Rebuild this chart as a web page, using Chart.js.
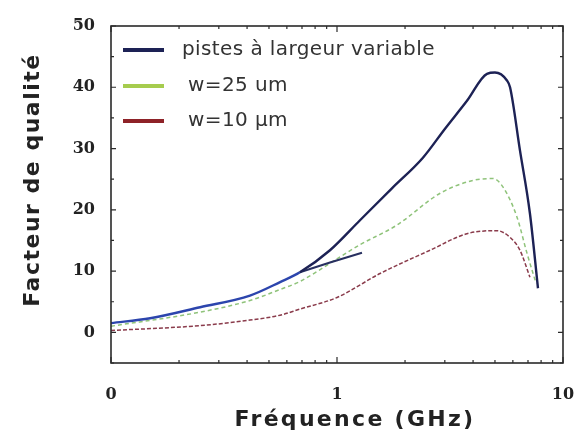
<!DOCTYPE html>
<html>
<head>
<meta charset="utf-8">
<script src="https://cdn.jsdelivr.net/npm/chart.js@4"></script>
<style>
  html, body { margin: 0; padding: 0; background: #fff; }
  #wrap { width: 581px; height: 439px; }
</style>
</head>
<body>
<div id="wrap"><canvas id="chart" width="581" height="439"></canvas></div>
<script>
// x tick labels on the log axis (the 0.1 tick is printed as "0")
const xTickValues = [0.1, 1, 10];
const xTickLabels = ['0', '1', '10'];

// pistes à largeur variable
const varFreq = [0.1, 0.149, 0.248, 0.412, 0.56, 0.685, 0.931, 1.264, 1.75, 2.40, 3.0, 3.76, 4.61, 5.0, 5.65, 5.83, 6.45, 7.14, 7.75];
const varQ    = [1.5, 2.3, 4.1, 6.0, 8.2, 9.8, 13.4, 18.3, 23.5, 28.5, 33.2, 37.8, 42.2, 42.4, 41.1, 40.0, 29.7, 19.4, 7.2];
// short second branch of the same curve
const branchFreq = [0.685, 0.931, 1.29];
const branchQ    = [9.8, 11.4, 13.0];
// w=25 um
const w25Freq = [0.1, 0.248, 0.412, 0.56, 0.685, 1.0, 1.264, 1.84, 2.86, 4.0, 4.9, 5.43, 6.26, 6.93, 7.6];
const w25Q    = [1.0, 3.3, 5.2, 7.0, 8.3, 12.0, 14.3, 17.5, 22.7, 24.8, 25.1, 23.7, 18.8, 12.9, 8.0];
// w=10 µm
const w10Freq = [0.1, 0.248, 0.412, 0.56, 0.685, 1.0, 1.55, 2.58, 3.76, 5.1, 5.83, 6.45, 7.14];
const w10Q    = [0.3, 1.1, 2.0, 2.8, 3.8, 5.7, 9.6, 13.4, 16.1, 16.6, 15.5, 13.4, 9.0];

const toPoints = (xs, ys) => xs.map((x, i) => ({ x: x, y: ys[i] }));

const navy = '#1d2255';
const frameColor = '#2a2a2a';

// frame, inward ticks, axis titles and the legend
const decorPlugin = {
  id: 'decor',
  afterDraw(chart) {
    const ctx = chart.ctx;
    const a = chart.chartArea;
    const xs = chart.scales.x, ys = chart.scales.y;
    ctx.save();
    ctx.strokeStyle = frameColor;
    ctx.lineWidth = 1.6;
    ctx.strokeRect(a.left, a.top, a.right - a.left, a.bottom - a.top);

    ctx.lineWidth = 1.2;
    ctx.beginPath();
    // y ticks every 5, longer every 10
    for (let v = -5; v <= 50; v += 5) {
      const py = ys.getPixelForValue(v);
      const len = v % 10 === 0 ? 5 : 3;
      ctx.moveTo(a.left, py); ctx.lineTo(a.left + len, py);
      ctx.moveTo(a.right, py); ctx.lineTo(a.right - len, py);
    }
    // log x ticks
    for (let d = 0.1; d < 10; d *= 10) {
      for (let k = 1; k <= 10; k++) {
        const px = xs.getPixelForValue(d * k);
        const len = k === 1 || k === 10 ? 6 : 3;
        ctx.moveTo(px, a.bottom); ctx.lineTo(px, a.bottom - len);
        ctx.moveTo(px, a.top); ctx.lineTo(px, a.top + len);
      }
    }
    ctx.stroke();

    // axis titles
    ctx.fillStyle = '#222';
    ctx.font = 'bold 22px "DejaVu Sans"';
    ctx.letterSpacing = '2.3px';
    ctx.textAlign = 'center';
    ctx.textBaseline = 'middle';
    ctx.fillText('Fréquence (GHz)', 355, 420);
    ctx.save();
    ctx.translate(33, 180);
    ctx.rotate(-Math.PI / 2);
    ctx.letterSpacing = '1.5px';
    ctx.fillText('Facteur de qualité', 0, 0);
    ctx.restore();

    // legend
    const items = [
      { ds: 0, y: 50, color: navy },
      { ds: 2, y: 86, color: '#a6cc4e' },
      { ds: 3, y: 121, color: '#8e2228' }
    ];
    ctx.font = '20px "DejaVu Sans"';
    ctx.letterSpacing = '0.4px';
    ctx.textAlign = 'left';
    items.forEach(it => {
      ctx.strokeStyle = it.color;
      ctx.lineWidth = 4;
      ctx.beginPath();
      ctx.moveTo(123, it.y); ctx.lineTo(164, it.y);
      ctx.stroke();
      ctx.fillStyle = '#333';
      ctx.fillText(chart.data.datasets[it.ds].label, it.ds === 0 ? 182 : 188, it.y);
    });
    ctx.restore();
  }
};

new Chart(document.getElementById('chart'), {
  type: 'line',
  data: {
    datasets: [
      {
        label: 'pistes à largeur variable',
        data: toPoints(varFreq, varQ),
        borderColor: navy,
        borderWidth: 2.4,
        segment: { borderColor: c => c.p0.parsed.x < 0.6 ? '#2c45ad' : navy },
        cubicInterpolationMode: 'monotone',
        pointRadius: 0
      },
      {
        label: '',
        data: toPoints(branchFreq, branchQ),
        borderColor: '#283060',
        borderWidth: 2,
        cubicInterpolationMode: 'monotone',
        pointRadius: 0
      },
      {
        label: 'w=25 um',
        data: toPoints(w25Freq, w25Q),
        borderColor: '#8fc37a',
        borderWidth: 1.5,
        borderDash: [4, 3],
        cubicInterpolationMode: 'monotone',
        pointRadius: 0
      },
      {
        label: 'w=10 µm',
        data: toPoints(w10Freq, w10Q),
        borderColor: '#8a3b4b',
        borderWidth: 1.5,
        borderDash: [4, 2],
        cubicInterpolationMode: 'monotone',
        pointRadius: 0
      }
    ]
  },
  options: {
    responsive: false,
    animation: false,
    layout: { padding: { top: 26, right: 18, left: 0, bottom: 0 } },
    plugins: { legend: { display: false }, tooltip: { enabled: false } },
    scales: {
      x: {
        type: 'logarithmic',
        min: 0.1,
        max: 10,
        grid: { display: false, drawTicks: false },
        border: { display: false },
        afterFit: s => { s.height = 76; s.paddingRight = 10; s.paddingLeft = 10; },
        ticks: {
          autoSkip: false,
          maxRotation: 0,
          padding: 22,
          color: '#222',
          font: { family: 'DejaVu Serif', weight: 'bold', size: 16 },
          callback: v => {
            const i = xTickValues.findIndex(t => Math.abs(t - v) < 1e-9);
            return i >= 0 ? xTickLabels[i] : '';
          }
        }
      },
      y: {
        min: -5,
        max: 50,
        grid: { display: false, drawTicks: false },
        border: { display: false },
        afterFit: s => { s.width = 111; },
        ticks: {
          stepSize: 5,
          padding: 16,
          color: '#222',
          font: { family: 'DejaVu Serif', weight: 'bold', size: 16 },
          callback: v => (v % 10 === 0 ? String(v) : '')
        }
      }
    }
  },
  plugins: [decorPlugin]
});
</script>
</body>
</html>
